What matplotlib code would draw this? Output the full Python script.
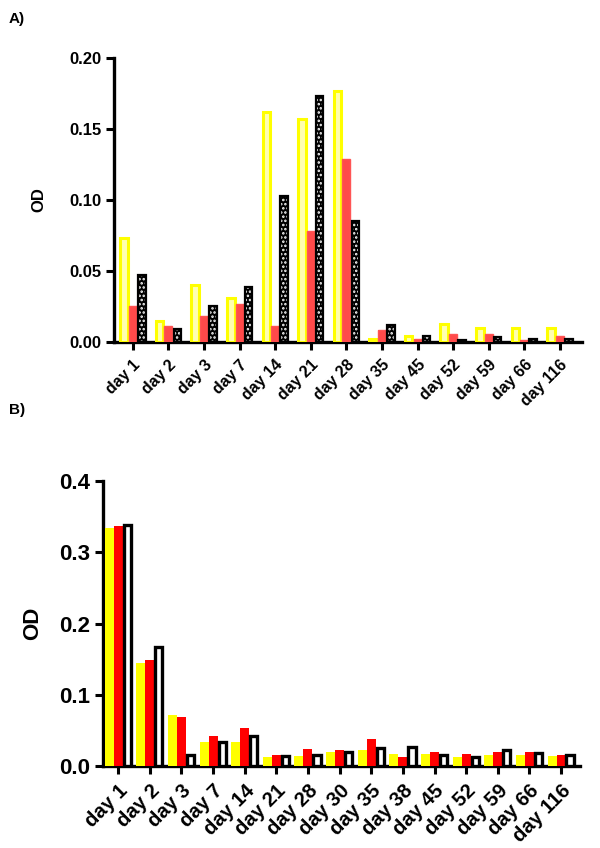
import matplotlib
matplotlib.use("Agg")
import matplotlib.pyplot as plt
import numpy as np

plt.rcParams["font.family"] = ["Liberation Sans", "DejaVu Sans"]
plt.rcParams["font.weight"] = "bold"
plt.rcParams["hatch.linewidth"] = 1.2

# Panel A data
days_a = ["day 1", "day 2", "day 3", "day 7", "day 14", "day 21", "day 28",
          "day 35", "day 45", "day 52", "day 59", "day 66", "day 116"]
yellow_a = [0.073, 0.015, 0.040, 0.031, 0.162, 0.157, 0.177,
            0.0024, 0.0045, 0.013, 0.010, 0.0096, 0.0096]
red_a = [0.025, 0.011, 0.018, 0.027, 0.011, 0.078, 0.129,
         0.0085, 0.0024, 0.0054, 0.0054, 0.0014, 0.0045]
black_a = [0.047, 0.009, 0.025, 0.039, 0.103, 0.173, 0.085,
           0.012, 0.0045, 0.0014, 0.0033, 0.0024, 0.0024]

# Panel B data
days_b = ["day 1", "day 2", "day 3", "day 7", "day 14", "day 21", "day 28",
          "day 30", "day 35", "day 38", "day 45", "day 52", "day 59",
          "day 66", "day 116"]
yellow_b = [0.334, 0.145, 0.072, 0.034, 0.033, 0.012, 0.014,
            0.020, 0.023, 0.017, 0.017, 0.013, 0.015, 0.015, 0.014]
red_b = [0.337, 0.149, 0.069, 0.042, 0.053, 0.016, 0.024,
         0.022, 0.038, 0.013, 0.019, 0.017, 0.019, 0.019, 0.016]
black_b = [0.339, 0.167, 0.016, 0.034, 0.042, 0.014, 0.015,
           0.020, 0.025, 0.026, 0.015, 0.012, 0.022, 0.018, 0.015]

YEL, RED = "#ffff00", "#ff0000"


def style(ax, yticks, yfmt, ylim, xlim, labels, tick_fs, lab_fs):
    ax.set_ylim(*ylim)
    ax.set_xlim(*xlim)
    for s in ("top", "right"):
        ax.spines[s].set_visible(False)
    for s in ("left", "bottom"):
        ax.spines[s].set_linewidth(2.4)
    ax.spines["left"].set_bounds(ylim[0], yticks[-1])
    ax.set_yticks(yticks)
    ax.set_yticklabels([yfmt.format(v) for v in yticks], fontsize=tick_fs,
                       fontweight="bold")
    ax.set_xticks(np.arange(len(labels)))
    ax.set_xticklabels(labels, rotation=45, ha="right", rotation_mode="anchor",
                       fontsize=lab_fs, fontweight="bold")
    ax.tick_params(axis="both", direction="out", length=6, width=2.2, pad=3)
    ax.tick_params(axis="x", pad=5)
    ax.set_ylabel("OD", fontsize=tick_fs, fontweight="bold")


fig = plt.figure(figsize=(6, 8.48), dpi=100)

# ---- Panel A
ax = fig.add_axes([0.19, 0.5967, 0.78, 0.335])
x = np.arange(len(days_a))
w = 0.25
ax.bar(x - w, yellow_a, w * 0.85, facecolor="#ffffb0", edgecolor=YEL,
       linewidth=2.2, zorder=3)
ax.bar(x, red_a, w * 0.9, facecolor="#ff4a4a", edgecolor="#e80000",
       hatch=":", linewidth=0, zorder=3)
ax.bar(x, red_a, w * 0.9, fill=False, edgecolor="#ff5555", linewidth=1.0, zorder=4)
ax.bar(x + w, black_a, w * 0.85, facecolor="black", edgecolor="white",
       hatch="....", linewidth=0, zorder=3)
ax.bar(x + w, black_a, w * 0.85, fill=False, edgecolor="black", linewidth=1.6, zorder=4)
style(ax, [0.0, 0.05, 0.10, 0.15, 0.20], "{:.2f}", (0, 0.2), (-0.53, 12.62),
      days_a, 12, 11.5)
ax.yaxis.set_label_coords(-0.145, 0.5)

# ---- Panel B
ax = fig.add_axes([0.1717, 0.0967, 0.795, 0.336])
x = np.arange(len(days_b))
w = 0.285
ax.bar(x - w, yellow_b, w, color=YEL, linewidth=0, zorder=3)
ax.bar(x, red_b, w, color=RED, linewidth=0, zorder=3)
ax.bar(x + w, black_b, w * 0.8, facecolor="white", edgecolor="black",
       linewidth=2.4, zorder=3)
style(ax, [0.0, 0.1, 0.2, 0.3, 0.4], "{:.1f}", (0, 0.4), (-0.48, 14.6),
      days_b, 16, 14.5)
ax.yaxis.set_label_coords(-0.125, 0.5)

fig.text(0.015, 0.978, "A)", fontsize=11, fontweight="bold", va="center")
fig.text(0.015, 0.517, "B)", fontsize=11, fontweight="bold", va="center")

fig.savefig("out.png", dpi=100)
